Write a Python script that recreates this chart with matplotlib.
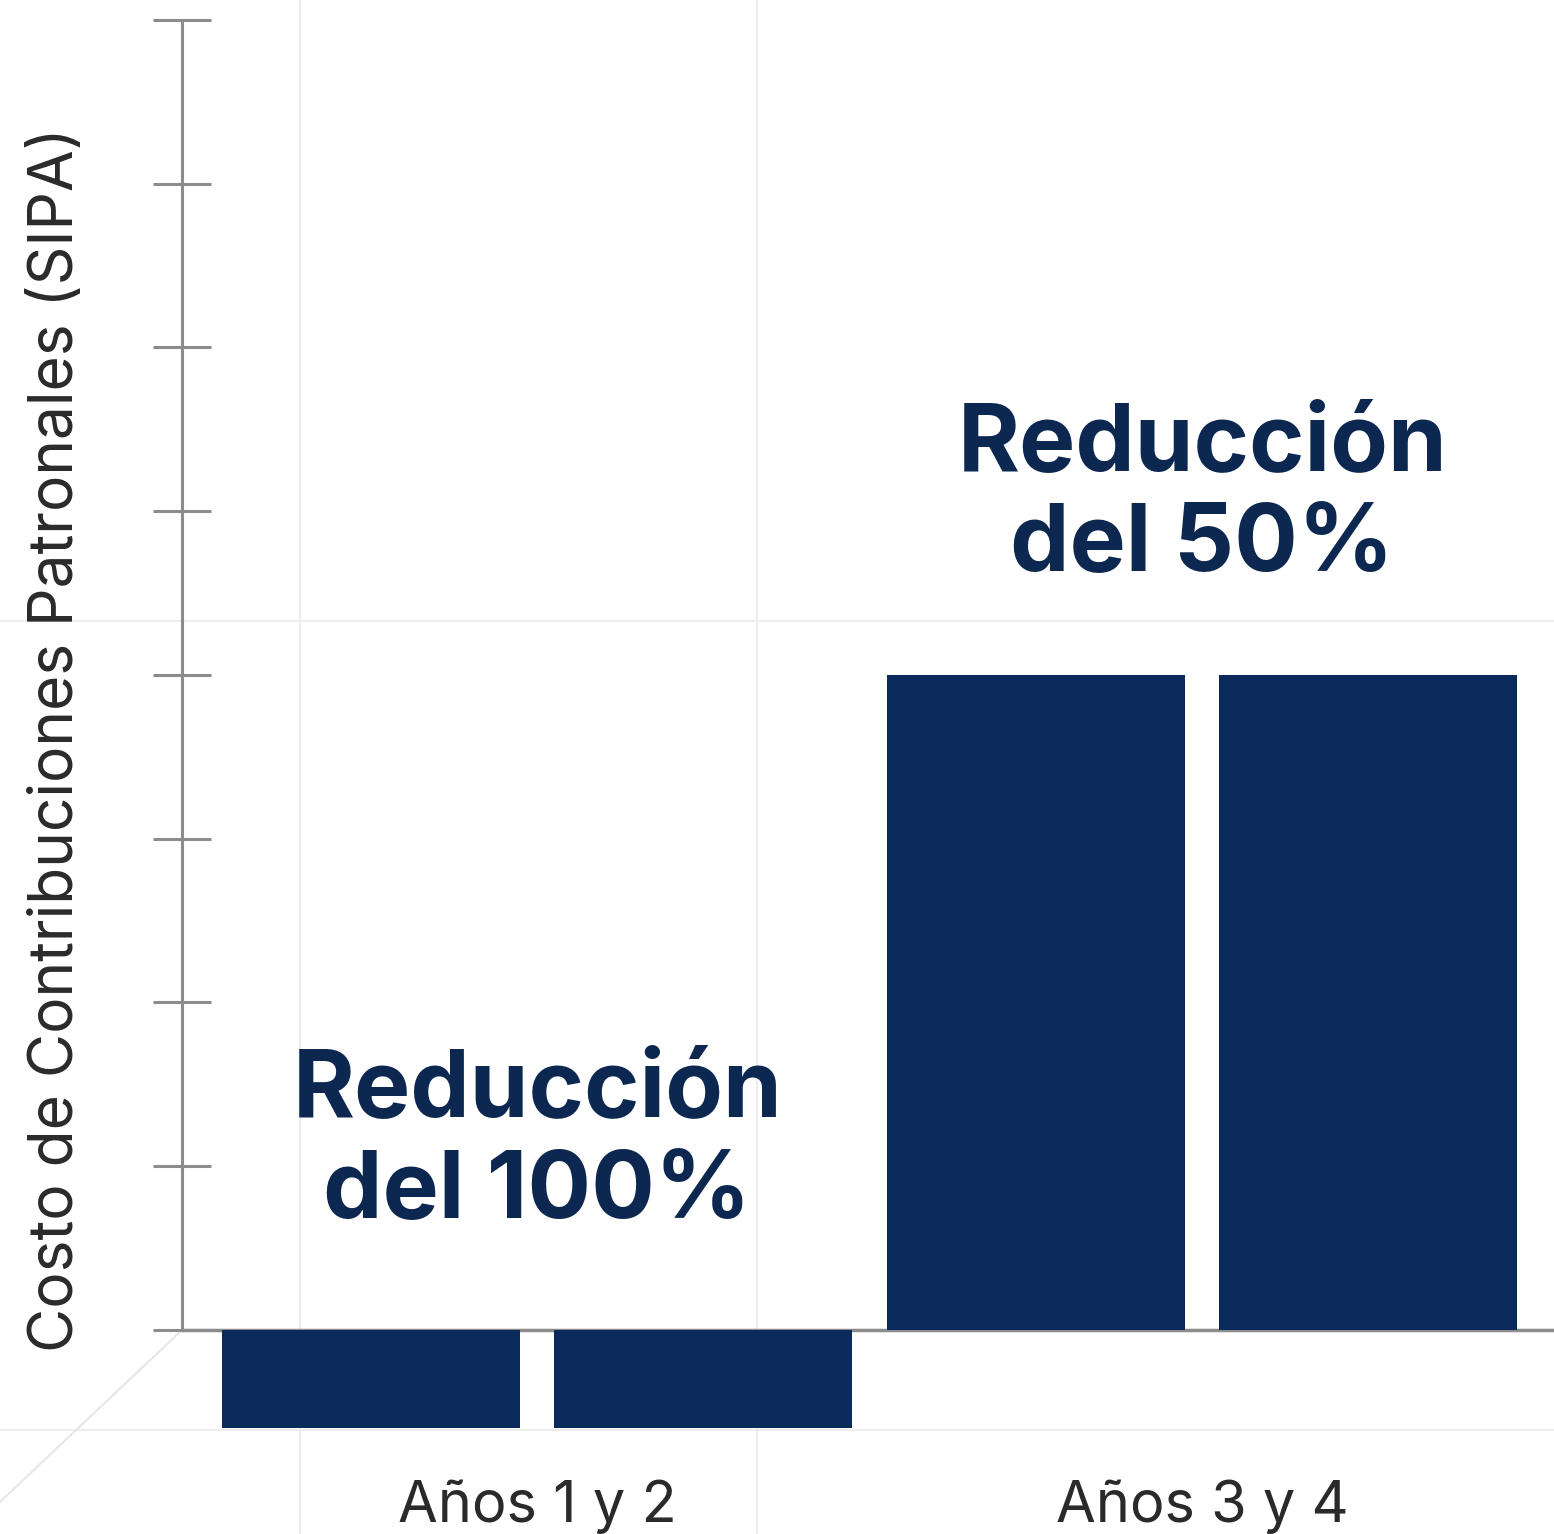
import matplotlib.pyplot as plt
import numpy as np

plt.rcParams['font.family'] = ['Inter', 'DejaVu Sans']

# data
groups = ['Años 1 y 2', 'Años 3 y 4']
bar_values = [[-0.6, -0.6], [4.0, 4.0]]
notes = ['Reducción\ndel 100%', 'Reducción\ndel 50%']
note_y = [1.14, 5.09]
y_ticks = np.arange(0, 9)

navy = '#0a2a5c'
axis_gray = '#8c8c8c'

fig = plt.figure(figsize=(15.54, 15.34), dpi=100)
ax = fig.add_axes([182 / 1554, 0, 1 - 182 / 1554, 1])

x0, x1 = -0.534, 1.529
ax.set_xlim(x0, x1)
ax.set_ylim(-1.246, 8.122)
x_fig_left = x0 - 182 / 665

# faint background guides
for gx in [-0.356, 0.331]:
    ax.axvline(gx, color='#ededed', lw=1.5, zorder=0)
for gy in [4.33, -0.61]:
    ax.plot([x_fig_left, x1], [gy, gy], color='#ededed', lw=1.5,
            clip_on=False, zorder=0)
ax.plot([x_fig_left, x0], [-1.05, 0], color='#e6e6e6', lw=1.5,
        clip_on=False, zorder=0)

# bars
offset = 0.25
width = 0.448
for i, vals in enumerate(bar_values):
    for j, v in enumerate(vals):
        ax.bar(i + (j - 0.5) * 2 * offset, v, width=width, color=navy,
               zorder=3)
    ax.text(i, note_y[i], notes[i], ha='center', va='center',
            fontsize=68, fontweight='bold', color='#0d2850',
            linespacing=1.2, zorder=4)
    # group label
    ax.text(i, -1.17, groups[i], ha='center', va='baseline',
            fontsize=41.5, color='#2a2a2a')

# axes lines
ax.axhline(0, color=axis_gray, lw=2.5, zorder=2)
for s in ['top', 'right', 'bottom']:
    ax.spines[s].set_visible(False)
ax.spines['left'].set_bounds(0, 8)
ax.spines['left'].set_color(axis_gray)
ax.spines['left'].set_linewidth(2.2)
ax.set_yticks(y_ticks)
ax.set_yticklabels([])
ax.tick_params(axis='y', direction='inout', length=42, width=2.2,
               color=axis_gray)
ax.set_xticks([])

ax.set_ylabel('Costo de Contribuciones Patronales (SIPA)', fontsize=43.5,
              color='#2a2a2a')
ax.yaxis.set_label_coords(-0.07, 0.518)

fig.savefig('out.png', dpi=100)
